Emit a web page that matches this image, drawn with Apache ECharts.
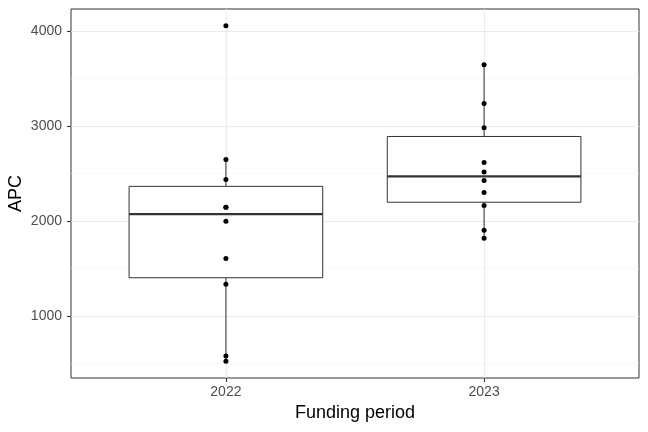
<!DOCTYPE html>
<html>
<head>
<meta charset="utf-8">
<script src="https://cdn.jsdelivr.net/npm/echarts@6/dist/echarts.min.js"></script>
<style>
  html, body { margin: 0; padding: 0; background: #fff; }
  #chart { width: 648px; height: 432px; }
</style>
</head>
<body>
<div id="chart"></div>
<script>
// values
var periods = ['2022', '2023'];
var apc2022 = [4056, 2649, 2439, 2147, 2147, 2000, 1607, 1337, 582, 526];
var apc2023 = [3645, 3239, 2982, 2618, 2516, 2428, 2302, 2165, 1905, 1821];
var yTicks = [1000, 2000, 3000, 4000];
var yMinorTicks = [500, 1500, 2500, 3500];

var groups = [apc2022, apc2023];

// same quantile rule as R (type 7)
function quantile(sorted, p) {
    var h = (sorted.length - 1) * p;
    var lo = Math.floor(h);
    var hi = Math.ceil(h);
    return sorted[lo] + (h - lo) * (sorted[hi] - sorted[lo]);
}

var boxData = [];
var pointData = [];
var allValues = [];
groups.forEach(function (vals, i) {
    var s = vals.slice().sort(function (a, b) { return a - b; });
    var q1 = quantile(s, 0.25), med = quantile(s, 0.5), q3 = quantile(s, 0.75);
    var iqr = q3 - q1;
    var inside = s.filter(function (v) { return v >= q1 - 1.5 * iqr && v <= q3 + 1.5 * iqr; });
    boxData.push([i + 1, inside[0], q1, med, q3, inside[inside.length - 1]]);
    vals.forEach(function (v) { pointData.push([i + 1, v]); allValues.push(v); });
});

var dMin = Math.min.apply(null, allValues);
var dMax = Math.max.apply(null, allValues);
var pad = (dMax - dMin) * 0.05;

var chart = echarts.init(document.getElementById('chart'));

var labelFont = 'Liberation Sans, Arial, sans-serif';

chart.setOption({
    animation: false,
    backgroundColor: '#ffffff',
    grid: {
        left: 71, right: 9, top: 9, bottom: 54,
        containLabel: false,
        outerBoundsMode: 'none',
        show: true, borderColor: '#333333', borderWidth: 1, backgroundColor: '#ffffff'
    },
    xAxis: {
        type: 'value',
        min: 0.4,
        max: periods.length + 0.6,
        name: 'Funding period',
        nameLocation: 'middle',
        nameGap: 26,
        nameMoveOverlap: false,
        nameTextStyle: { fontFamily: labelFont, fontSize: 18, color: '#000000' },
        axisLine: { show: false },
        axisTick: {
            show: true, length: 4, inside: false,
            customValues: [1, 2],
            lineStyle: { color: '#333333', width: 1.1 }
        },
        axisLabel: {
            customValues: [1, 2],
            margin: 7,
            fontFamily: labelFont, fontSize: 14, color: '#4d4d4d',
            formatter: function (v) { return periods[Math.round(v) - 1] || ''; }
        },
        splitLine: { show: true, lineStyle: { color: '#ebebeb', width: 1.1 } }
    },
    yAxis: [{
        type: 'value',
        min: dMin - pad,
        max: dMax + pad,
        name: 'APC',
        nameLocation: 'middle',
        nameGap: 46,
        nameMoveOverlap: false,
        nameRotate: 90,
        nameTextStyle: { fontFamily: labelFont, fontSize: 18, color: '#000000' },
        axisLine: { show: false },
        axisTick: {
            show: true, length: 4,
            customValues: yTicks,
            lineStyle: { color: '#333333', width: 1.1 }
        },
        axisLabel: {
            customValues: yTicks,
            margin: 9,
            fontFamily: labelFont, fontSize: 14, color: '#4d4d4d',
            formatter: function (v) { return String(v); }
        },
        splitLine: { show: true, lineStyle: { color: '#ebebeb', width: 1.1 } }
    }, {
        type: 'value',
        position: 'left',
        min: dMin - pad,
        max: dMax + pad,
        axisLine: { show: false },
        axisTick: { show: false, customValues: yMinorTicks },
        axisLabel: { show: false, customValues: yMinorTicks },
        splitLine: { show: true, lineStyle: { color: '#f3f3f3', width: 0.6 } }
    }],
    series: [{
        type: 'custom',
        data: boxData,
        encode: { x: 0, y: [1, 2, 3, 4, 5] },
        z: 2,
        renderItem: function (params, api) {
            var x = api.value(0);
            var half = api.size([0.75, 0])[0] / 2;
            var c = api.coord([x, api.value(3)])[0];
            var yLow = api.coord([x, api.value(1)])[1];
            var yQ1 = api.coord([x, api.value(2)])[1];
            var yMed = api.coord([x, api.value(3)])[1];
            var yQ3 = api.coord([x, api.value(4)])[1];
            var yHigh = api.coord([x, api.value(5)])[1];
            var line = { stroke: '#333333', lineWidth: 1, fill: null };
            return {
                type: 'group',
                children: [
                    { type: 'line', shape: { x1: c, y1: yQ3, x2: c, y2: yHigh }, style: line },
                    { type: 'line', shape: { x1: c, y1: yQ1, x2: c, y2: yLow }, style: line },
                    { type: 'rect', shape: { x: c - half, y: yQ3, width: half * 2, height: yQ1 - yQ3 },
                      style: { fill: '#ffffff', stroke: '#333333', lineWidth: 1 } },
                    { type: 'line', shape: { x1: c - half, y1: yMed, x2: c + half, y2: yMed },
                      style: { stroke: '#333333', lineWidth: 2.2 } }
                ]
            };
        }
    }, {
        type: 'scatter',
        data: pointData,
        z: 3,
        symbol: 'circle',
        symbolSize: 5,
        itemStyle: { color: '#000000', opacity: 1 }
    }]
});
</script>
</body>
</html>
